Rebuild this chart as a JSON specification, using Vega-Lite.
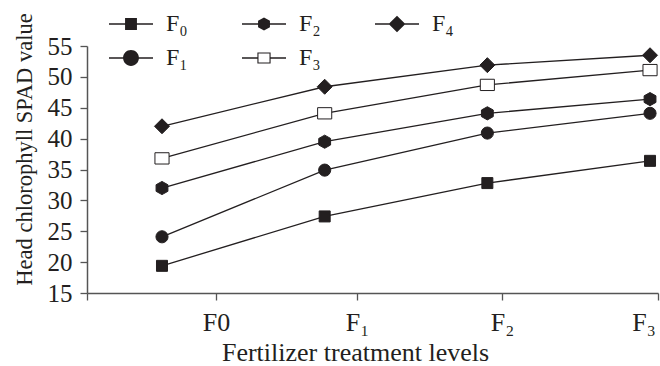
{
  "$schema": "https://vega.github.io/schema/vega-lite/v6.json",
  "width": 571,
  "height": 247,
  "autosize": {"type": "none"},
  "padding": {"left": 87, "top": 46, "right": 2, "bottom": 73},
  "background": "white",
  "config": {"view": {"stroke": null}, "font": "Liberation Serif"},
  "data": {
    "values": [
      {"series": "F₀", "level": 1, "value": 19.4},
      {"series": "F₀", "level": 2, "value": 27.4},
      {"series": "F₀", "level": 3, "value": 32.8},
      {"series": "F₀", "level": 4, "value": 36.4},
      {"series": "F₁", "level": 1, "value": 24.1},
      {"series": "F₁", "level": 2, "value": 34.9},
      {"series": "F₁", "level": 3, "value": 40.9},
      {"series": "F₁", "level": 4, "value": 44.1},
      {"series": "F₂", "level": 1, "value": 32.0},
      {"series": "F₂", "level": 2, "value": 39.5},
      {"series": "F₂", "level": 3, "value": 44.1},
      {"series": "F₂", "level": 4, "value": 46.4},
      {"series": "F₃", "level": 1, "value": 36.8},
      {"series": "F₃", "level": 2, "value": 44.1},
      {"series": "F₃", "level": 3, "value": 48.7},
      {"series": "F₃", "level": 4, "value": 51.1},
      {"series": "F₄", "level": 1, "value": 42.0},
      {"series": "F₄", "level": 2, "value": 48.4},
      {"series": "F₄", "level": 3, "value": 51.9},
      {"series": "F₄", "level": 4, "value": 53.5}
    ]
  },
  "encoding": {
    "x": {
      "field": "level",
      "type": "quantitative",
      "scale": {"domain": [0.539, 4.049], "nice": false, "zero": false},
      "axis": {
        "values": [0.539, 1.332, 2.199, 3.09, 3.96, 4.049],
        "labelExpr": "datum.value > 1 && datum.value < 1.5 ? 'F0' : datum.value > 2 && datum.value < 2.5 ? 'F₁' : datum.value > 3 && datum.value < 3.5 ? 'F₂' : datum.value > 3.9 && datum.value < 4 ? 'F₃' : ''",
        "tickOpacity": {"condition": {"test": "datum.value > 3.9 && datum.value < 4", "value": 0}, "value": 1},
        "title": "Fertilizer treatment levels",
        "titleFontSize": 26,
        "titleFontWeight": "normal",
        "titleColor": "#231f20",
        "titleX": 268,
        "titleY": 59,
        "titleBaseline": "middle",
        "labelFontSize": 26,
        "labelColor": "#231f20",
        "labelPadding": 9,
        "labelFlush": false,
        "labelOverlap": false,
        "labelBound": false,
        "tickSize": 7,
        "tickColor": "#555555",
        "tickWidth": 1.3,
        "domainColor": "#555555",
        "domainWidth": 1.5,
        "grid": false
      }
    },
    "y": {
      "field": "value",
      "type": "quantitative",
      "scale": {"domain": [15, 55], "nice": false, "zero": false},
      "axis": {
        "values": [15, 20, 25, 30, 35, 40, 45, 50, 55],
        "title": "Head chlorophyll SPAD value",
        "titleFontSize": 22.5,
        "titleFontWeight": "normal",
        "titleColor": "#231f20",
        "titleX": -63,
        "titleY": 103,
        "titleBaseline": "middle",
        "labelFontSize": 25,
        "labelColor": "#231f20",
        "labelPadding": 8,
        "labelFlush": false,
        "labelOverlap": false,
        "tickSize": 7,
        "tickColor": "#555555",
        "tickWidth": 1.3,
        "domainColor": "#555555",
        "domainWidth": 1.5,
        "grid": false
      }
    }
  },
  "layer": [
    {
      "mark": {"type": "line", "color": "#231f20", "strokeWidth": 1.3},
      "encoding": {"detail": {"field": "series", "type": "nominal"}}
    },
    {
      "mark": {"type": "point", "filled": true, "stroke": "#231f20", "strokeWidth": 1, "opacity": 1},
      "encoding": {
        "shape": {
          "field": "series", "type": "nominal",
          "scale": {"domain": ["F₀", "F₁", "F₂", "F₃", "F₄"], "range": ["square", "circle", "M0,-1L0.9,-0.5L0.9,0.5L0,1L-0.9,0.5L-0.9,-0.5Z", "M-1,-0.8H1V0.8H-1Z", "diamond"]},
          "legend": null
        },
        "fill": {
          "field": "series", "type": "nominal",
          "scale": {"domain": ["F₀", "F₁", "F₂", "F₃", "F₄"], "range": ["#231f20", "#231f20", "#231f20", "#ffffff", "#231f20"]},
          "legend": null
        },
        "size": {
          "field": "series", "type": "ordinal",
          "scale": {"domain": ["F₀", "F₁", "F₂", "F₃", "F₄"], "range": [121, 225, 144, 160, 225]},
          "legend": null
        }
      }
    },
    {
      "mark": {"type": "point", "filled": true, "opacity": 0, "color": "#231f20"},
      "encoding": {
        "shape": {
          "field": "series", "type": "nominal",
          "scale": {
            "domain": ["F₀", "F₂", "F₄", "F₁", "F₃"],
            "range": [
              "M-1,-0.03H1V0.03H-1Z M-0.27,-0.27H0.27V0.27H-0.27Z",
              "M-1,-0.03H1V0.03H-1Z M0,-0.3L0.27,-0.15L0.27,0.15L0,0.3L-0.27,0.15L-0.27,-0.15Z",
              "M-1,-0.03H1V0.03H-1Z M0,-0.38L0.38,0L0,0.38L-0.38,0Z",
              "M-1,-0.03H1V0.03H-1Z M-0.36,0A0.36,0.36 0 1,1 0.36,0A0.36,0.36 0 1,1 -0.36,0Z",
              "M-1,-0.03H-0.3V0.03H-1Z M0.3,-0.03H1V0.03H0.3Z M-0.3,-0.25H0.3V0.25H-0.3Z M-0.25,-0.2V0.2H0.25V-0.2Z"
            ]
          },
          "legend": {
            "orient": "none",
            "direction": "horizontal",
            "legendX": 22,
            "legendY": -44,
            "columns": 3,
            "columnPadding": 54,
            "rowPadding": -10,
            "symbolSize": 1936,
            "symbolOpacity": 1,
            "symbolStrokeWidth": 0,
            "symbolFillColor": "#231f20",
            "labelFontSize": 24,
            "labelFont": "Liberation Serif",
            "labelOffset": 13,
            "labelColor": "#231f20",
            "title": null,
            "padding": 0
          }
        }
      }
    }
  ],
  "resolve": {"scale": {"shape": "independent"}}
}
